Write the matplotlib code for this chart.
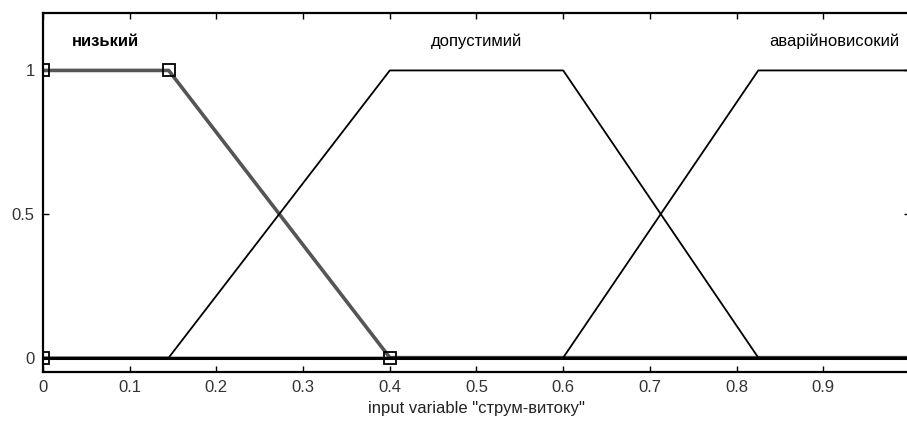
import numpy as np
import matplotlib.pyplot as plt

plt.rcParams['font.family'] = ['Liberation Sans', 'DejaVu Sans']

# membership functions (trapmf parameters a, b, c, d)
mf_names = ['низький', 'допустимий', 'аварійновисокий']
mf_params = [
    [0.0, 0.0, 0.145, 0.4],
    [0.145, 0.4, 0.6, 0.825],
    [0.6, 0.825, 1.0, 1.0],
]
selected = 0
xlabel = 'input variable "струм-витоку"'
xticks = [0, 0.1, 0.2, 0.3, 0.4, 0.5, 0.6, 0.7, 0.8, 0.9]
yticks = [0, 0.5, 1]


def trapmf(x, p):
    a, b, c, d = p
    y = np.ones_like(x)
    if b > a:
        y = np.minimum(y, (x - a) / (b - a))
    else:
        y = np.where(x < a, 0.0, y)
    if d > c:
        y = np.minimum(y, (d - x) / (d - c))
    else:
        y = np.where(x > d, 0.0, y)
    return np.clip(y, 0, 1)


x = np.linspace(0, 1, 201)

fig = plt.figure(figsize=(9.07, 4.22), dpi=100)
ax = fig.add_axes([43 / 907, 50 / 422, 867 / 907, 359 / 422])

for i, p in enumerate(mf_params):
    y = trapmf(x, p)
    if i == selected:
        ax.plot(x, y, color='#555555', lw=2.6, zorder=2, solid_capstyle='butt')
    else:
        ax.plot(x, y, color='black', lw=1.3, zorder=3)
    ax.text((p[1] + p[2]) / 2, 1.1, mf_names[i], ha='center', va='center',
            fontsize=12, color='black',
            fontweight='bold' if i == selected else 'normal')

ax.axhline(0, color='black', lw=2.2, zorder=3)

# vertex markers of the selected function
a, b, c, d = mf_params[selected]
ax.plot([a, b, c, d], [0, 1, 1, 0], ls='none', marker='s', ms=9,
        mfc='none', mec='black', mew=1.3, zorder=4, clip_on=True)

ax.set_xlim(0, 1)
ax.set_ylim(-0.05, 1.2)
ax.set_xticks(xticks)
ax.set_xticklabels([f'{t:g}' for t in xticks])
ax.set_yticks(yticks)
ax.set_yticklabels([f'{t:g}' for t in yticks])
ax.tick_params(direction='in', length=4, width=1, top=True, right=True,
               labelsize=12, labelcolor='#333333', pad=6)
for s in ax.spines.values():
    s.set_linewidth(1.6)
ax.set_xlabel(xlabel, fontsize=12, color='#222222', labelpad=4)

fig.savefig('out.png', dpi=100)
